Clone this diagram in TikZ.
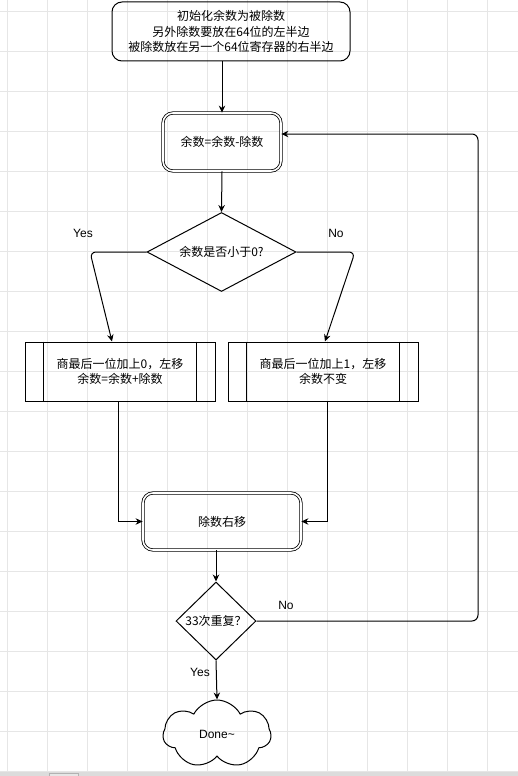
\documentclass[tikz,border=0pt]{standalone}
\usepackage{fontspec}
\setmainfont{Noto Sans CJK SC}
\newfontfamily\latinfont{Liberation Sans}
\usetikzlibrary{shapes.geometric,shapes.symbols,arrows.meta}
\definecolor{gridc}{HTML}{E6E6E6}
\definecolor{stripc}{HTML}{DCDCDC}
\tikzset{
  base/.style={draw, line width=1pt, font=\fontsize{12}{15.5}\selectfont, align=center, inner sep=0pt},
  startbox/.style={base, rounded corners=10pt, minimum width=238pt, minimum height=59pt},
  dblbox/.style={base, rounded corners=10pt, double, double distance=1.6pt, line width=0.8pt},
  procbox/.style={base, minimum width=190pt, minimum height=59pt},
  decide/.style={base, diamond},
  cloudshape/.style={base, cloud, cloud puffs=7, cloud puff arc=125, aspect=1.6, minimum width=108pt, minimum height=68pt},
  conn/.style={line width=1pt, -{Stealth[length=7pt,width=6.5pt]}},
  lbl/.style={font=\latinfont\fontsize{12}{13}\selectfont, inner sep=0pt},
}
\begin{document}
\begin{tikzpicture}[x=1pt,y=-1pt]
\useasboundingbox (0,0) rectangle (518,776);
% grid
\foreach \gx in {7,47,...,487} \draw[gridc, line width=0.8pt] (\gx,0) -- (\gx,772);
\foreach \gy in {11,51,...,771} \draw[gridc, line width=0.8pt] (0,\gy) -- (518,\gy);
% bottom strip
\fill[stripc] (0,772) rectangle (518,776);
\filldraw[fill=stripc!70, draw=gray!60, line width=0.5pt] (49,773) rectangle (78,776);

\node[startbox] (top) at (231,31.5) {初始化余数为被除数\\另外除数要放在64位的左半边\\被除数放在另一个64位寄存器的右半边};
\node[dblbox, minimum width=118pt, minimum height=58pt] (sub) at (222,142) {余数=余数-除数};
\node[decide, aspect=1.9, minimum width=149pt, minimum height=79pt] (d1) at (221.5,252) {余数是否小于0?};
\node[procbox] (p1) at (120,371.5) {商最后一位加上0，左移\\余数=余数+除数};
\node[procbox] (p2) at (323,371.5) {商最后一位加上1，左移\\余数不变};
\draw[line width=1pt] ([xshift=19pt]p1.north west) -- ([xshift=19pt]p1.south west);
\draw[line width=1pt] ([xshift=-19pt]p1.north east) -- ([xshift=-19pt]p1.south east);
\draw[line width=1pt] ([xshift=19pt]p2.north west) -- ([xshift=19pt]p2.south west);
\draw[line width=1pt] ([xshift=-19pt]p2.north east) -- ([xshift=-19pt]p2.south east);
\node[dblbox, minimum width=158pt, minimum height=57pt] (shift) at (222,521.5) {除数右移};
\node[decide, aspect=1, minimum width=80pt, minimum height=78pt] (d2) at (216,621) {33次重复？};
\node[cloudshape] (done) at (217,734) {\latinfont Done\char`\~};

% labels
\node[lbl] (yes1) at (83,233) {Yes};
\node[lbl] (no1) at (336,233) {No};
\node[lbl] (no2) at (286,605) {No};
\node[lbl] (yes2) at (200,672) {Yes};

% connectors
\draw[conn] (sub.north |- top.south) -- (sub.north);
\draw[conn] (sub.south) -- (d1.north);
\coordinate (lc) at (90,252);
\coordinate (rc) at (355,252);
\draw[conn, rounded corners=6pt] (d1.west) -- (lc) -- ([xshift=-8pt]p1.north);
\draw[conn, rounded corners=6pt] (d1.east) -- (rc) -- ([xshift=2pt]p2.north);
\draw[conn] ([xshift=-2pt]p1.south) |- (shift.west);
\draw[conn] ([xshift=4pt]p2.south) |- (shift.east);
\draw[conn] (d2.north |- shift.south) -- (d2.north);
\coordinate (br) at (478,621);
\draw[conn, rounded corners=6pt] (d2.east) -- (br) |- ([yshift=8pt]sub.east);
\draw[conn] (d2.south) -- (done.north);
\end{tikzpicture}
\end{document}
